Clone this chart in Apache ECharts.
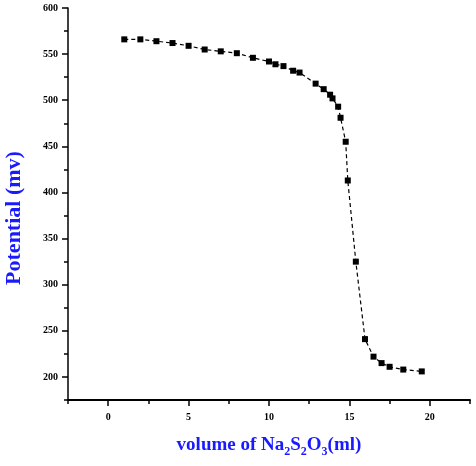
<!DOCTYPE html>
<html>
<head>
<meta charset="utf-8">
<script src="https://cdn.jsdelivr.net/npm/echarts@6/dist/echarts.min.js"></script>
<style>html,body{margin:0;padding:0;background:#fff}#c{width:476px;height:466px}</style>
</head>
<body>
<div id="c"></div>
<script>
const volume = [1, 2, 3, 4, 5, 6, 7, 8, 9, 10, 10.4, 10.9, 11.5, 11.9, 12.9, 13.4, 13.8, 13.95, 14.3, 14.45, 14.77, 14.9, 15.4, 15.97, 16.5, 17, 17.5, 18.35, 19.5];
const potential = [566, 566, 564, 562, 559, 555, 553, 551, 546, 542, 539, 537, 532, 530, 518, 512, 506, 502, 493, 481, 455, 413, 325, 241, 222, 215, 211, 208, 206];
const xMajorTicks = [0, 5, 10, 15, 20];
const xMinorTicks = [-2.5, 2.5, 7.5, 12.5, 17.5, 22.5];
const yMajorTicks = [200, 250, 300, 350, 400, 450, 500, 550, 600];
const yMinorTicks = [175, 225, 275, 325, 375, 425, 475, 525, 575];

const labelFont = {color: '#000', fontFamily: 'Liberation Serif', fontWeight: 'bold', fontSize: 10};
const titleBlue = '#1a1aff';

const chart = echarts.init(document.getElementById('c'), null, {renderer: 'canvas'});
chart.setOption({
  animation: false,
  backgroundColor: '#fff',
  grid: {left: 68, right: 6, top: 8, bottom: 66, containLabel: false, outerBoundsMode: 'none'},
  xAxis: [{
    type: 'value', min: -2.5, max: 22.5,
    axisLine: {show: true, onZero: false, lineStyle: {color: '#000', width: 2}},
    axisTick: {show: true, inside: false, length: 6, lineStyle: {color: '#000', width: 1.5}, customValues: xMajorTicks},
    axisLabel: Object.assign({margin: 12, customValues: xMajorTicks}, labelFont),
    splitLine: {show: false},
    name: 'volume of Na{s|2}S{s|2}O{s|3}(ml)',
    nameLocation: 'middle', nameGap: 32,
    nameTextStyle: {
      color: titleBlue, fontFamily: 'Liberation Serif', fontWeight: 'bold', fontSize: 19,
      rich: {s: {color: titleBlue, fontFamily: 'Liberation Serif', fontWeight: 'bold', fontSize: 12, verticalAlign: 'bottom', padding: [14, 0, 0, 0]}}
    }
  }, {
    type: 'value', min: -2.5, max: 22.5, position: 'bottom',
    axisLine: {show: false, onZero: false},
    axisTick: {show: true, inside: false, length: 4, lineStyle: {color: '#000', width: 1.5}, customValues: xMinorTicks},
    axisLabel: {show: false},
    splitLine: {show: false}
  }],
  yAxis: [{
    type: 'value', min: 175, max: 600,
    axisLine: {show: true, onZero: false, lineStyle: {color: '#000', width: 1.5}},
    axisTick: {show: true, inside: false, length: 6, lineStyle: {color: '#000', width: 1.5}, customValues: yMajorTicks},
    axisLabel: Object.assign({margin: 10, customValues: yMajorTicks}, labelFont),
    splitLine: {show: false},
    name: 'Potential (mv)',
    nameLocation: 'middle', nameGap: 43, nameRotate: 90,
    nameTextStyle: {color: titleBlue, fontFamily: 'Liberation Serif', fontWeight: 'bold', fontSize: 22, padding: [0, 28, 0, 0]}
  }, {
    type: 'value', min: 175, max: 600, position: 'left',
    axisLine: {show: false, onZero: false},
    axisTick: {show: true, inside: false, length: 4, lineStyle: {color: '#000', width: 1.5}, customValues: yMinorTicks},
    axisLabel: {show: false},
    splitLine: {show: false}
  }],
  series: [{
    type: 'line',
    xAxisIndex: 0, yAxisIndex: 0,
    data: volume.map((v, i) => [v, potential[i]]),
    symbol: 'rect', symbolSize: 6,
    itemStyle: {color: '#000'},
    lineStyle: {color: '#000', width: 1.2, type: [4, 3]}
  }]
});
</script>
</body>
</html>
